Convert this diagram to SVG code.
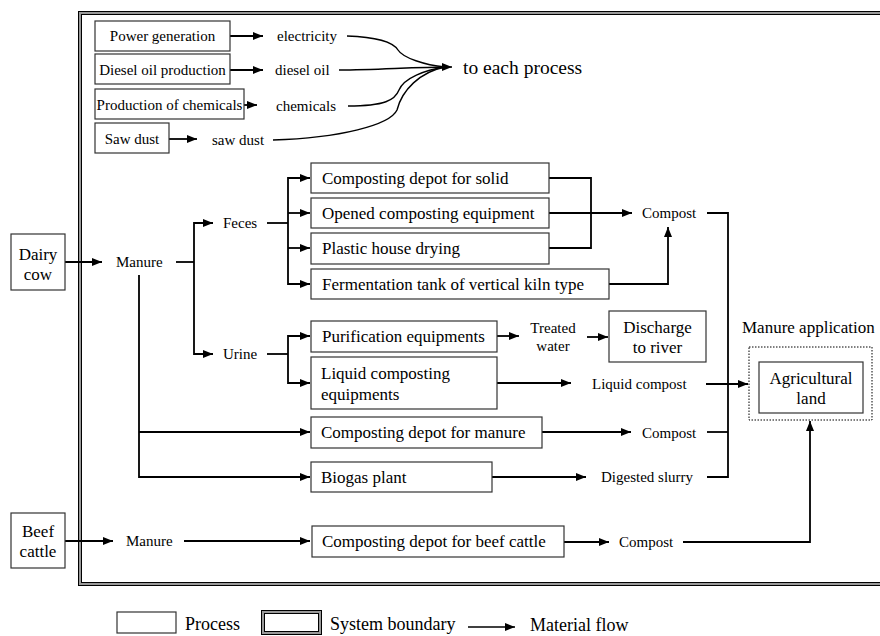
<svg xmlns="http://www.w3.org/2000/svg" width="880" height="636" viewBox="0 0 880 636">
<defs>
<marker id="ah" markerUnits="userSpaceOnUse" markerWidth="10" markerHeight="8" refX="10" refY="4" orient="auto">
<path d="M0,0 L10,4 L0,8 z" fill="#000"/>
</marker>
<style>
text{font-family:"Liberation Serif","Times New Roman",serif;fill:#000}
.s15{font-size:15px}
.s17{font-size:17px}
.mid{text-anchor:middle}
.box{fill:#fff;stroke:#333;stroke-width:1.2}
.c{fill:none;stroke:#000;stroke-width:1.8}
.a{marker-end:url(#ah)}
.bo{fill:none;stroke:#000;stroke-width:1}
.bg{fill:none;stroke:#999;stroke-width:2}
</style>
</defs>
<rect width="880" height="636" fill="#fff"/>
<g id="system-boundary">
<rect class="bg" x="80" y="13" width="820" height="571"/>
<rect class="bo" x="78.5" y="11.5" width="823" height="574"/>
<rect class="bo" x="81.5" y="14.5" width="817" height="568"/>
</g>
<g id="connectors">
<path class="c a" d="M230,36 H263"/>
<path class="c a" d="M230,70 H263"/>
<path class="c a" d="M244,105 H257"/>
<path class="c a" d="M169,139 H197"/>
<path class="c" style="stroke-width:1.4" d="M347,36 C375,37 393,42 398,50 C403,58 425,65 445,67"/>
<path class="c a" style="stroke-width:1.4" d="M339,70 C380,70 410,67 452,67"/>
<path class="c" style="stroke-width:1.4" d="M348,106 C385,106 395,100 399,90 C404,78 425,70 445,67"/>
<path class="c" style="stroke-width:1.4" d="M273,140 C340,138 390,125 397,110 C402,90 420,72 445,67"/>
<path class="c a" d="M65,262 H102"/>
<path class="c" d="M176,262 H194"/>
<path class="c a" d="M194,262 V223 H213"/>
<path class="c a" d="M194,262 V354 H213"/>
<path class="c" d="M267,223 H288"/>
<path class="c a" d="M288,223 V178 H310"/>
<path class="c a" d="M288,213 H310"/>
<path class="c a" d="M288,223 V284 H310"/>
<path class="c a" d="M288,248 H310"/>
<path class="c" d="M549,178 H591 V248 H549"/>
<path class="c a" d="M549,213 H632"/>
<path class="c" d="M707,213 H728 V477 H707"/>
<path class="c a" d="M609,284 H668 V227"/>
<path class="c" d="M267,354 H288"/>
<path class="c a" d="M288,354 V336 H310"/>
<path class="c a" d="M288,354 V383 H310"/>
<path class="c a" d="M139,275 V477 H310"/>
<path class="c a" d="M139,432 H310"/>
<path class="c a" d="M497,336 H519"/>
<path class="c a" d="M587,337 H608"/>
<path class="c a" d="M497,383 H571"/>
<path class="c a" d="M706,384 H748"/>
<path class="c a" d="M542,432 H631"/>
<path class="c" d="M707,432 H728"/>
<path class="c a" d="M492,477 H586"/>
<path class="c a" d="M65,541 H113"/>
<path class="c a" d="M184,541 H310"/>
<path class="c a" d="M564,542 H609"/>
<path class="c a" d="M683,542 H810 V421"/>
</g>
<g id="power-generation"><rect class="box" x="95" y="21" width="135" height="30"/><text class="s15 mid" x="162.5" y="41">Power generation</text></g>
<g id="diesel-oil-production"><rect class="box" x="95" y="54" width="135" height="30"/><text class="s15 mid" x="162.5" y="75">Diesel oil production</text></g>
<g id="production-of-chemicals"><rect class="box" x="95" y="89" width="149" height="30"/><text class="s15 mid" x="169.5" y="110">Production of chemicals</text></g>
<g id="saw-dust-box"><rect class="box" x="95" y="123" width="74" height="30"/><text class="s15 mid" x="132" y="144">Saw dust</text></g>
<g id="electricity"><text class="s15" x="277" y="41">electricity</text></g>
<g id="diesel-oil"><text class="s15" x="275" y="75">diesel oil</text></g>
<g id="chemicals"><text class="s15" x="276" y="111">chemicals</text></g>
<g id="saw-dust"><text class="s15" x="212" y="145">saw dust</text></g>
<g id="to-each-process"><text x="463" y="74" style="font-size:19.5px">to each process</text></g>
<g id="dairy-cow"><rect class="box" x="11" y="234" width="54" height="56"/><text class="s17 mid" x="38" y="260">Dairy</text><text class="s17 mid" x="38" y="280">cow</text></g>
<g id="manure-dairy"><text class="s15" x="116" y="267">Manure</text></g>
<g id="feces"><text class="s15" x="223" y="228">Feces</text></g>
<g id="urine"><text class="s15" x="223" y="359">Urine</text></g>
<g id="composting-depot-solid"><rect class="box" x="311" y="163" width="238" height="30"/><text class="s17" x="322" y="184">Composting depot for solid</text></g>
<g id="opened-composting"><rect class="box" x="311" y="198" width="238" height="30"/><text class="s17" x="322" y="219">Opened composting equipment</text></g>
<g id="plastic-house"><rect class="box" x="311" y="233" width="238" height="31"/><text class="s17" x="322" y="254">Plastic house drying</text></g>
<g id="fermentation-tank"><rect class="box" x="311" y="269" width="298" height="30"/><text class="s17" x="322" y="290">Fermentation tank of vertical kiln type</text></g>
<g id="compost-1"><text class="s15" x="642" y="218">Compost</text></g>
<g id="purification"><rect class="box" x="311" y="321" width="186" height="31"/><text class="s17" x="322" y="342">Purification equipments</text></g>
<g id="liquid-composting"><rect class="box" x="311" y="357" width="186" height="52"/><text class="s17" x="321" y="379">Liquid composting</text><text class="s17" x="321" y="400">equipments</text></g>
<g id="treated-water"><text class="s15 mid" x="553" y="333">Treated</text><text class="s15 mid" x="553" y="351">water</text></g>
<g id="discharge"><rect class="box" x="609" y="311" width="97" height="51"/><text class="s17 mid" x="657.5" y="333">Discharge</text><text class="s17 mid" x="657.5" y="353">to river</text></g>
<g id="liquid-compost"><text class="s15" x="592" y="389">Liquid compost</text></g>
<g id="composting-depot-manure"><rect class="box" x="311" y="417" width="231" height="31"/><text class="s17" x="321" y="438">Composting depot for manure</text></g>
<g id="compost-2"><text class="s15" x="642" y="438">Compost</text></g>
<g id="biogas"><rect class="box" x="311" y="462" width="181" height="30"/><text class="s17" x="321" y="483">Biogas plant</text></g>
<g id="digested-slurry"><text class="s15" x="601" y="482">Digested slurry</text></g>
<g id="manure-application"><text class="s17" x="742" y="333">Manure application</text><rect x="749" y="347" width="123" height="73" fill="none" stroke="#000" stroke-width="1" stroke-dasharray="1.5 1.5"/></g>
<g id="agricultural-land"><rect class="box" x="759" y="362" width="104" height="51"/><text class="s17 mid" x="811" y="384">Agricultural</text><text class="s17 mid" x="811" y="404">land</text></g>
<g id="beef-cattle"><rect class="box" x="11" y="513" width="54" height="55"/><text class="s17 mid" x="38" y="537">Beef</text><text class="s17 mid" x="38" y="557">cattle</text></g>
<g id="manure-beef"><text class="s15" x="126" y="546">Manure</text></g>
<g id="composting-depot-beef"><rect class="box" x="312" y="526" width="252" height="31"/><text class="s17" x="322" y="547">Composting depot for beef cattle</text></g>
<g id="compost-3"><text class="s15" x="619" y="547">Compost</text></g>
<g id="legend">
<rect class="box" x="117" y="612" width="59" height="21"/>
<text x="185" y="630" style="font-size:18px">Process</text>
<rect class="bg" x="263" y="612" width="57" height="21"/>
<rect class="bo" x="261.5" y="610.5" width="60" height="24"/>
<rect class="bo" x="264.5" y="613.5" width="54" height="18"/>
<text x="330" y="630" style="font-size:18px">System boundary</text>
<path class="c a" style="stroke-width:1.5" d="M468,627 H515"/>
<text x="530" y="631" style="font-size:18px">Material flow</text>
</g>
</svg>
